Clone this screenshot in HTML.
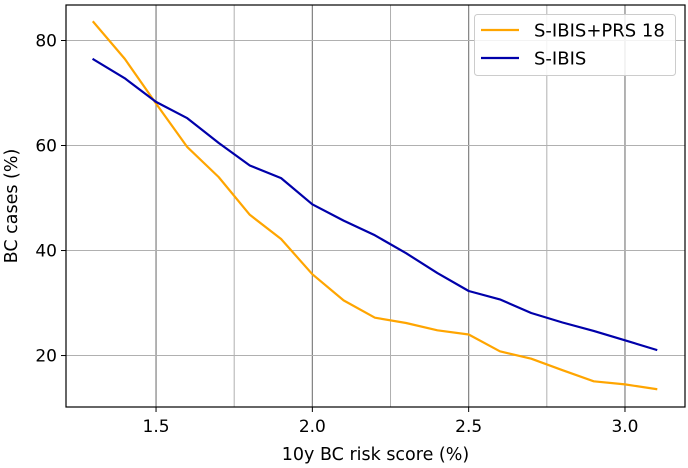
<!DOCTYPE html>
<html><head><meta charset="utf-8"><style>
html,body{margin:0;padding:0;background:#fff;}
svg{display:block;font-family:"DejaVu Sans","Liberation Sans",sans-serif;}
</style></head><body>
<svg id="chart" width="688" height="468" xmlns="http://www.w3.org/2000/svg"></svg>
<script>
const xValues=[1.3,1.4,1.5,1.6,1.7,1.8,1.9,2.0,2.1,2.2,2.3,2.4,2.5,2.6,2.7,2.8,2.9,3.0,3.1];
const seriesPRS=[83.5,76.5,68,59.7,54,46.8,42.2,35.5,30.5,27.2,26.2,24.8,24,20.8,19.4,17.2,15.1,14.5,13.6];
const seriesIBIS=[76.4,72.8,68.3,65.2,60.5,56.2,53.8,48.8,45.7,42.9,39.5,35.7,32.3,30.7,28.1,26.3,24.7,22.9,21.1];
const xTicks=[1.5,2.0,2.5,3.0];
const xTickLabels=["1.5","2.0","2.5","3.0"];
const xMinorTicks=[1.75,2.25,2.75];
const yTicks=[20,40,60,80];
const yTickLabels=["20","40","60","80"];

const L=66,R=685,T=5,B=407;
const xMin=1.212,xMax=3.192,yMin=10.2,yMax=86.76;
const sx=v=>L+(v-xMin)/(xMax-xMin)*(R-L);
const sy=v=>B-(v-yMin)/(yMax-yMin)*(B-T);
const svg=document.getElementById('chart');
const NS='http://www.w3.org/2000/svg';
function mk(tag,attrs,parent){const e=document.createElementNS(NS,tag);for(const k in attrs)e.setAttribute(k,attrs[k]);(parent||svg).appendChild(e);return e;}

const grid=mk('g',{});


xMinorTicks.forEach(v=>{const l=mk('line',{x1:sx(v),x2:sx(v),y1:T,y2:B,stroke:'#b0b0b0','stroke-width':1},grid);

});
xTicks.forEach(v=>{const l=mk('line',{x1:sx(v),x2:sx(v),y1:T,y2:B,stroke:'#808080','stroke-width':1.2},grid);

});
yTicks.forEach(v=>{const l=mk('line',{x1:L,x2:R,y1:sy(v),y2:sy(v),stroke:'#b0b0b0','stroke-width':1},grid);

});

function drawLine(vals,color,name){
  const d=vals.map((v,i)=>(i?'L':'M')+sx(xValues[i]).toFixed(1)+','+sy(v).toFixed(1)).join(' ');
  const p=mk('path',{d:d,fill:'none',stroke:color,'stroke-width':2.2,'stroke-linejoin':'round','stroke-linecap':'square'});
  
  
}
drawLine(seriesPRS,'#ffa500','line-s-ibis-prs18');
drawLine(seriesIBIS,'#0000aa','line-s-ibis');

const frame=mk('rect',{x:L,y:T,width:R-L,height:B-T,fill:'none',stroke:'#000','stroke-width':1.2});



xTicks.forEach((v,i)=>{
  mk('line',{x1:sx(v),x2:sx(v),y1:B,y2:B+5,stroke:'#000'});
  const t=mk('text',{x:sx(v),y:B+25,'text-anchor':'middle','font-size':17,fill:'#000'});
  t.textContent=xTickLabels[i];
  
  
});
yTicks.forEach((v,i)=>{
  mk('line',{x1:L-5,x2:L,y1:sy(v),y2:sy(v),stroke:'#000'});
  const t=mk('text',{x:L-9,y:sy(v)+6,'text-anchor':'end','font-size':17,fill:'#000'});
  t.textContent=yTickLabels[i];
  
  
});
const xt=mk('text',{x:(L+R)/2,y:460,'text-anchor':'middle','font-size':17.5,fill:'#000'});
xt.textContent='10y BC risk score (%)';


const yt=mk('text',{x:0,y:0,'text-anchor':'middle','font-size':17.5,fill:'#000',transform:'translate(17,'+((T+B)/2)+') rotate(-90)'});
yt.textContent='BC cases (%)';



const lg=mk('g',{});


mk('rect',{x:474.5,y:14.5,width:201,height:61,rx:3,fill:'#fff','fill-opacity':0.85,stroke:'#ccc'},lg);
const entries=[['S-IBIS+PRS 18','#ffa500',30],['S-IBIS','#0000aa',58]];
entries.forEach(e=>{
  const g=mk('g',{},lg);
  
  
  mk('line',{x1:481,x2:519,y1:e[2],y2:e[2],stroke:e[1],'stroke-width':2.2},g);
  const t=mk('text',{x:534,y:e[2]+6.5,'font-size':18,fill:'#000'},g);
  t.textContent=e[0];
});
</script>
</body></html>
